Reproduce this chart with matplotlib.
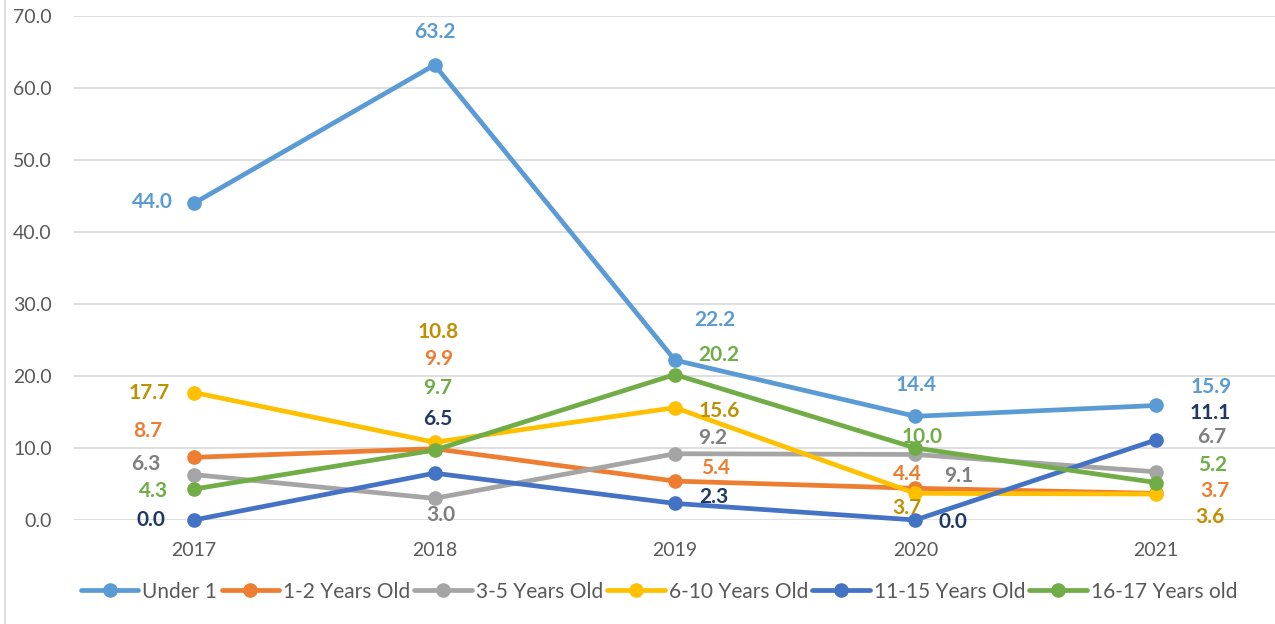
import matplotlib.pyplot as plt
from matplotlib.lines import Line2D

years = ["2017", "2018", "2019", "2020", "2021"]
series_names = ["Under 1", "1-2 Years Old", "3-5 Years Old",
                "6-10 Years Old", "11-15 Years Old", "16-17 Years old"]
under_1 = [44.0, 63.2, 22.2, 14.4, 15.9]
age_1_2 = [8.7, 9.9, 5.4, 4.4, 3.7]
age_3_5 = [6.3, 3.0, 9.2, 9.1, 6.7]
age_6_10 = [17.7, 10.8, 15.6, 3.7, 3.6]
age_11_15 = [0.0, 6.5, 2.3, 0.0, 11.1]
age_16_17 = [4.3, 9.7, 20.2, 10.0, 5.2]

values = [under_1, age_1_2, age_3_5, age_6_10, age_11_15, age_16_17]
line_colors = ["#5B9BD5", "#ED7D31", "#A5A5A5", "#FFC000", "#4472C4", "#70AD47"]
label_colors = ["#5B9BD5", "#ED7D31", "#7F7F7F", "#BF9000", "#203864", "#70AD47"]

# hand-placed label offsets (pixels) like in the original sheet
label_offsets = [
    [(-42, 1), (0, 33), (40, 40), (1, 31), (56, 18)],
    [(-46, 26), (4, 90), (41, 13), (-8, 14), (59, 2)],
    [(-48, 11), (6, -17), (38, 16), (43, -22), (56, 35)],
    [(-45, 0), (4, 110), (44, -3), (-8, -15), (54, -23)],
    [(-43, 0), (3, 54), (39, 6), (38, -2), (55, 27)],
    [(-41, -2), (3, 62), (44, 20), (7, 11), (57, 18)],
]

plt.rcParams["font.family"] = ["Lato", "DejaVu Sans"]

fig = plt.figure(figsize=(12.75, 6.24), dpi=100)
ax = fig.add_axes([0.058, 0.1667, 0.9427, 0.8077])

x = range(len(years))
for name, vals, lc, tc, offs in zip(series_names, values, line_colors, label_colors, label_offsets):
    ax.plot(x, vals, color=lc, lw=3.4, marker="o", markersize=9.5,
            label=name, clip_on=False, zorder=3, solid_capstyle="round")
    for i, v in enumerate(vals):
        ax.annotate(f"{v:.1f}", (i, v), xytext=offs[i], textcoords="offset pixels",
                    ha="center", va="center", color=tc, fontsize=15,
                    fontweight="bold", zorder=4)

ax.set_xlim(-0.5, len(years) - 0.5)
ax.set_ylim(0, 70)
ax.set_yticks(range(0, 71, 10))
ax.set_yticklabels([f"{t:.1f}" for t in range(0, 71, 10)])
ax.set_xticks(list(x))
ax.set_xticklabels(years)
ax.grid(axis="y", color="#D9D9D9", lw=1.2)
ax.set_axisbelow(True)
for s in ax.spines.values():
    s.set_visible(False)
ax.tick_params(length=0, labelsize=14, labelcolor="#595959")
ax.tick_params(axis="y", pad=16)
ax.tick_params(axis="x", pad=16)

fig.legend(loc="center", bbox_to_anchor=(0.517, 0.052), ncol=6, frameon=False,
           fontsize=15, handlelength=2.75, handletextpad=0.2, columnspacing=0.2,
           labelcolor="#595959")

fig.add_artist(Line2D([0.004, 0.004], [0, 1], transform=fig.transFigure,
                      color="#D9D9D9", lw=1.2))

fig.savefig("out.png", dpi=100)
